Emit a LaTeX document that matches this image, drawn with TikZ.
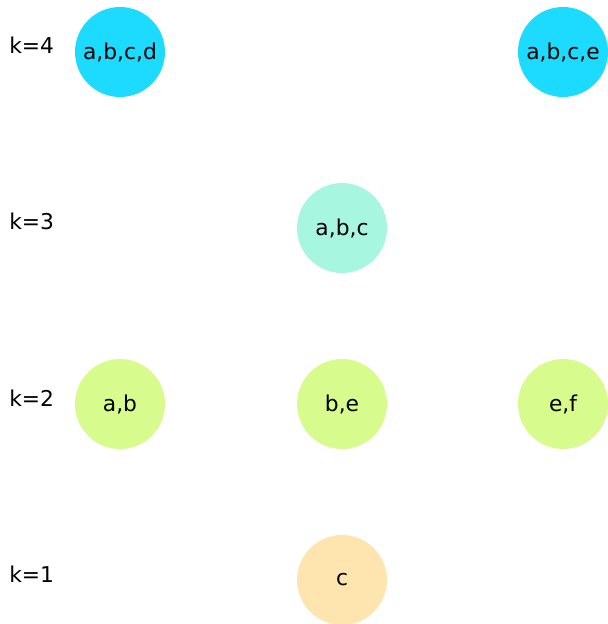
\documentclass[tikz,border=0pt]{standalone}
\usepackage{fontspec}
\setmainfont{DejaVu Sans}
\usepackage{tikz}
\usetikzlibrary{positioning}
\definecolor{colorK4}{HTML}{1DDBFE}
\definecolor{colorK3}{HTML}{A6F6E0}
\definecolor{colorK2}{HTML}{D8FB8E}
\definecolor{colorK1}{HTML}{FEE5B0}

\begin{document}
\begin{tikzpicture}[font=\fontsize{12.4}{14}\selectfont,
        set/.style={circle, draw=none, minimum size=1.8cm, inner sep=0pt},
        lvl/.style={anchor=base west, inner sep=0pt}]
        \useasboundingbox (0,0) rectangle (12.14,-12.48);
        % itemsets by level
        \node[set, fill=colorK4] (abcd) at (2.4,-1.04)   {a,b,c,d};
        \node[set, fill=colorK4] (abce) at (11.26,-1.04) {a,b,c,e};
        \node[set, fill=colorK3] (abc)  at (6.84,-4.56)  {a,b,c};
        \node[set, fill=colorK2] (ab)   at (2.4,-8.08)   {a,b};
        \node[set, fill=colorK2] (be)   at (6.84,-8.08)  {b,e};
        \node[set, fill=colorK2] (ef)   at (11.26,-8.08) {e,f};
        \node[set, fill=colorK1] (c)    at (6.84,-11.6)  {c};
        % level labels
        \foreach \k/\y in {4/-1.08, 3/-4.6, 2/-8.12, 1/-11.64}
            \node[lvl] (k\k) at (0.18,\y) {k=\k};
\end{tikzpicture}
\end{document}
